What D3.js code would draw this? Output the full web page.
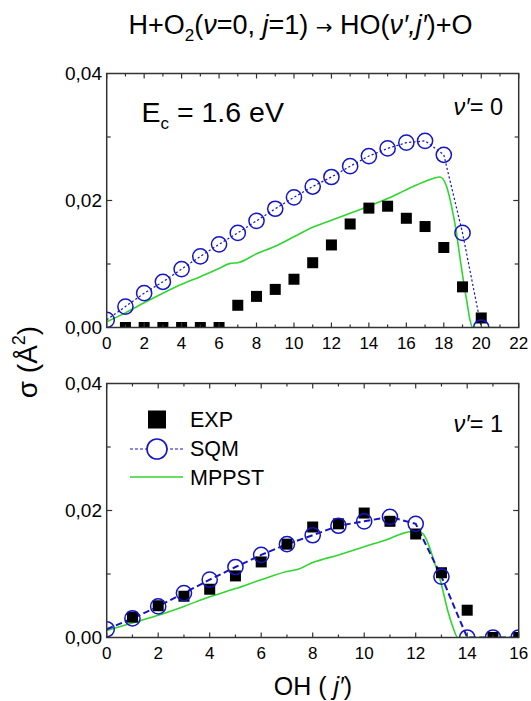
<!DOCTYPE html>
<html><head><meta charset="utf-8">
<script src="https://cdn.jsdelivr.net/npm/d3@7/dist/d3.min.js"></script>
<style>body{margin:0;background:#fff}text{font-family:"Liberation Sans",Arial,sans-serif;fill:#000}</style>
</head><body>
<svg id="chart" width="531" height="701"></svg>
<script>
// ---------- data ----------
const yTickLabels = ["0,00","0,02","0,04"];
const yTickValues = [0, 0.02, 0.04];
const topXTicks = [0,2,4,6,8,10,12,14,16,18,20,22];
const botXTicks = [0,2,4,6,8,10,12,14,16];

// v'=0 panel
const topJ = [0,1,2,3,4,5,6,7,8,9,10,11,12,13,14,15,16,17,18,19,20];
const topSQM = [0.0012,0.0033,0.0054,0.0072,0.0092,0.0112,0.0131,0.0149,0.0168,0.0187,0.0205,0.0222,0.0237,0.0254,0.0270,0.0282,0.0291,0.0294,0.0272,0.0149,0.0000];
const topExpJ = [1,2,3,4,5,6,7,8,9,10,11,12,13,14,15,16,17,18,19,20];
const topEXP = [0,0,0,0,0,0,0.0035,0.0049,0.0060,0.0076,0.0102,0.0130,0.0163,0.0188,0.0191,0.0172,0.0159,0.0126,0.0064,0.0015];
const topMpJ = [0,1,2,3,4,5,6,6.6,7,8,9,10,11,12,13,14,15,16,17,17.8,18.15,18.42,18.65,18.83,19.04,19.22,19.40,19.54,20,21];
const topMP  = [0.0009,0.0023,0.0039,0.0054,0.0068,0.0080,0.0093,0.0101,0.0102,0.0116,0.0128,0.0143,0.0158,0.0169,0.0180,0.0191,0.0203,0.0217,0.0230,0.0237,0.0222,0.0190,0.0154,0.0117,0.0075,0.0043,0.0012,0.0000,0.0000,0.0000];

// v'=1 panel
const botJ = [0,1,2,3,4,5,6,7,8,9,10,11,12,13,14,15,16];
const botSQM = [0.0013,0.0030,0.0049,0.0070,0.0091,0.0111,0.0130,0.0147,0.0161,0.0176,0.0183,0.0190,0.0179,0.0096,0.0000,0.0000,0.0000];
const botExpJ = [1,2,3,4,5,6,7,8,9,10,11,12,13,14,15,16];
const botEXP = [0.0032,0.0050,0.0065,0.0076,0.0097,0.0119,0.0147,0.0174,0.0179,0.0196,0.0183,0.0163,0.0102,0.0043,0.0000,0.0000];
const botMpJ = [0,1,2,3,4,5,6,7,7.4,8,9,10,11,11.5,12,12.27,12.53,12.72,12.92,13.08,13.24,13.44,13.63,14,16];
const botMP  = [0.0011,0.0023,0.0035,0.0049,0.0064,0.0077,0.0091,0.0104,0.0107,0.0118,0.0130,0.0143,0.0156,0.0164,0.0168,0.0164,0.0143,0.0119,0.0096,0.0070,0.0043,0.0017,0.0000,0.0000,0.0000];

const legendLabels = ["EXP","SQM","MPPST"];

// ---------- drawing ----------
const svg = d3.select("#chart");
const BLUE = "#1414c8", GREEN = "#2fd62f", AX = "#333";
const X0 = 106.7, X1 = 518.7;

function panel(cfg){
  const x = d3.scaleLinear().domain([0,cfg.xmax]).range([X0,X1]);
  const y = d3.scaleLinear().domain([0,0.04]).range([cfg.yb,cfg.yt]);
  const g = svg.append("g");
  const cid = "clip"+cfg.id;
  svg.append("clipPath").attr("id",cid).append("rect")
    .attr("x",X0).attr("y",cfg.yt).attr("width",X1-X0).attr("height",cfg.yb-cfg.yt);
  const d = g.append("g").attr("clip-path","url(#"+cid+")");

  const mp = cfg.mpJ.map((j,i)=>[j,cfg.mp[i]]);
  d.append("path").datum(mp)
    .attr("d", d3.line().x(p=>x(p[0])).y(p=>y(p[1])).curve(d3.curveMonotoneX))
    .attr("fill","none").attr("stroke",GREEN).attr("stroke-width",1.6);
  const sq = cfg.sqJ.map((j,i)=>[j,cfg.sq[i]]);
  d.append("path").datum(sq)
    .attr("d", d3.line().x(p=>x(p[0])).y(p=>y(p[1])))
    .attr("fill","none").attr("stroke",BLUE).attr("stroke-width",cfg.dashW)
    .attr("stroke-dasharray",cfg.dash);
  const ex = cfg.exJ.map((j,i)=>[j,cfg.ex[i]]);
  d.selectAll("rect.e").data(ex).enter().append("rect")
    .attr("x",p=>x(p[0])-5.5).attr("y",p=>y(p[1])-5.5)
    .attr("width",11).attr("height",11).attr("fill","#000");
  d.selectAll("circle.s").data(sq).enter().append("circle")
    .attr("cx",p=>x(p[0])).attr("cy",p=>y(p[1])).attr("r",7.6)
    .attr("fill","none").attr("stroke",BLUE).attr("stroke-width",1.5);

  const xMajor = d3.range(0,cfg.xmax+0.001,2), xMinor = d3.range(1,cfg.xmax,2);
  const ax = g.append("g").attr("stroke",AX).attr("stroke-width",1.2);
  xMajor.forEach(v=>{
    ax.append("line").attr("x1",x(v)).attr("x2",x(v)).attr("y1",cfg.yb).attr("y2",cfg.yb-5);
    ax.append("line").attr("x1",x(v)).attr("x2",x(v)).attr("y1",cfg.yt).attr("y2",cfg.yt+5);
  });
  xMinor.forEach(v=>{
    ax.append("line").attr("x1",x(v)).attr("x2",x(v)).attr("y1",cfg.yb).attr("y2",cfg.yb-3);
    ax.append("line").attr("x1",x(v)).attr("x2",x(v)).attr("y1",cfg.yt).attr("y2",cfg.yt+3);
  });
  [0.01,0.02,0.03].forEach(v=>{
    const L = (v===0.02)?5.5:4;
    ax.append("line").attr("x1",X0).attr("x2",X0+L).attr("y1",y(v)).attr("y2",y(v));
    ax.append("line").attr("x1",X1).attr("x2",X1-L).attr("y1",y(v)).attr("y2",y(v));
  });
  g.append("rect").attr("x",X0).attr("y",cfg.yt).attr("width",X1-X0).attr("height",cfg.yb-cfg.yt)
    .attr("fill","none").attr("stroke",AX).attr("stroke-width",1.5);

  cfg.xt.forEach(v=>{
    g.append("text").attr("x",x(v)).attr("y",cfg.yb+21).attr("text-anchor","middle")
      .attr("font-size",17).text(v);
  });
  yTickValues.forEach((v,i)=>{
    g.append("text").attr("x",102).attr("y",y(v)+6).attr("text-anchor","end")
      .attr("font-size",19).text(yTickLabels[i]);
  });
  const t = g.append("text").attr("x",503).attr("y",cfg.vy).attr("text-anchor","end").attr("font-size",23.5);
  t.append("tspan").attr("font-style","italic").text("ν′");
  t.append("tspan").text("= "+cfg.v);
  return {x,y,g};
}

panel({id:1,xmax:22,yt:73.5,yb:327.5,mpJ:topMpJ,mp:topMP,sqJ:topJ,sq:topSQM,exJ:topExpJ,ex:topEXP,
       dash:"2.2,2.2",dashW:1.2,xt:topXTicks,vy:115,v:"0"});
panel({id:2,xmax:16,yt:383.5,yb:637.5,mpJ:botMpJ,mp:botMP,sqJ:botJ,sq:botSQM,exJ:botExpJ,ex:botEXP,
       dash:"6.5,3.5",dashW:2,xt:botXTicks,vy:432,v:"1"});

// Title
const title = svg.append("text").attr("x",300.5).attr("y",34).attr("text-anchor","middle").attr("font-size",27);
title.append("tspan").text("H+O");
title.append("tspan").attr("font-size",17).attr("dy",7).text("2");
title.append("tspan").attr("dy",-7).text("(");
title.append("tspan").attr("font-style","italic").text("ν");
title.append("tspan").text("=0, ");
title.append("tspan").attr("font-style","italic").text("j");
title.append("tspan").text("=1) ");
title.append("tspan").attr("font-family","DejaVu Sans").attr("font-size",20).text("→");
title.append("tspan").text(" HO(");
title.append("tspan").attr("font-style","italic").text("ν′,j′");
title.append("tspan").text(")+O");

// E_c label
const ec = svg.append("text").attr("x",141.5).attr("y",121.5).attr("font-size",28.5);
ec.append("tspan").text("E");
ec.append("tspan").attr("font-size",17).attr("dy",7).text("c");
ec.append("tspan").attr("dy",-7).text(" = 1.6 eV");

// Legend (bottom panel)
const lg = svg.append("g");
lg.append("rect").attr("x",148).attr("y",410.5).attr("width",18).attr("height",18).attr("fill","#000");
lg.append("line").attr("x1",130).attr("x2",183).attr("y1",449).attr("y2",449)
  .attr("stroke",BLUE).attr("stroke-width",1.2).attr("stroke-dasharray","3,2");
lg.append("circle").attr("cx",157).attr("cy",449).attr("r",10).attr("fill","#fff").attr("stroke",BLUE).attr("stroke-width",1.6);
lg.append("line").attr("x1",130).attr("x2",183).attr("y1",477).attr("y2",477)
  .attr("stroke",GREEN).attr("stroke-width",1.6);
[427,456,485].forEach((yy,i)=>{
  lg.append("text").attr("x",190).attr("y",yy).attr("font-size",21.5).text(legendLabels[i]);
});

// Y axis title
const yl = svg.append("text").attr("transform","translate(37,362) rotate(-90)")
  .attr("text-anchor","middle").attr("font-size",28);
yl.append("tspan").text("σ (Å");
yl.append("tspan").attr("font-size",18).attr("dy",-12).text("2");
yl.append("tspan").attr("dy",12).text(")");

// X axis title
const xl = svg.append("text").attr("x",313).attr("y",695).attr("text-anchor","middle").attr("font-size",25);
xl.append("tspan").text("OH ( ");
xl.append("tspan").attr("font-style","italic").text("j′");
xl.append("tspan").text(")");
</script>
</body></html>
